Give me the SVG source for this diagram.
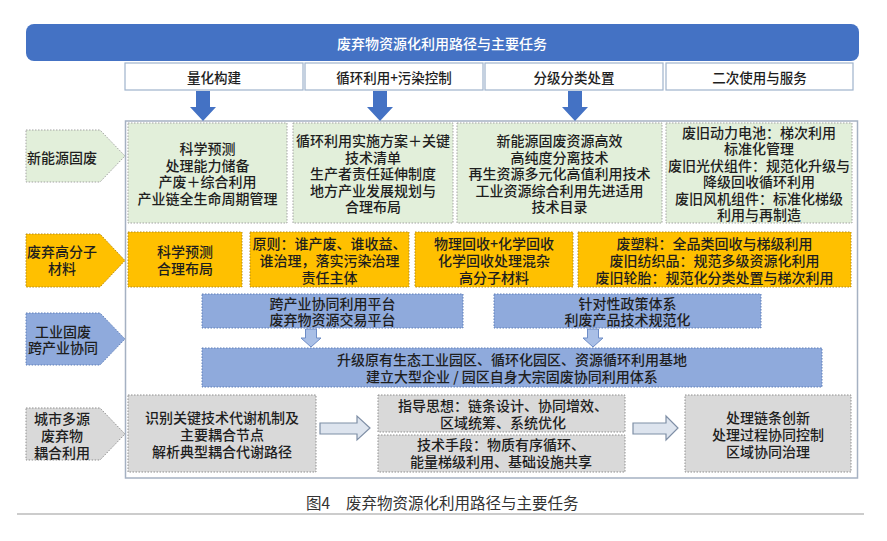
<svg xmlns="http://www.w3.org/2000/svg" width="887" height="541" viewBox="0 0 887 541">
<style>
text{font-family:"Noto Sans CJK SC","Noto Sans CJK JP",sans-serif;font-size:14px;font-weight:500;fill:#1e1e1e;text-anchor:middle;dominant-baseline:central}
.title{fill:#ffffff;font-size:14px}
.colhead{font-size:13.5px}
.cap{font-size:15.5px;fill:#333333;text-anchor:start;font-weight:400}
.colbox{fill:#ffffff;stroke:#9fb3cc;stroke-width:1.2}
.green{fill:#e2efda;stroke:#a3a3a3;stroke-width:1;stroke-dasharray:1.5 1.5}
.orange{fill:#ffc000;stroke:#b28a1a;stroke-width:1;stroke-dasharray:1.5 1.5}
.blue{fill:#8faadc;stroke:#5f7fb8;stroke-width:1;stroke-dasharray:1.5 1.5}
.gray{fill:#d9d9d9;stroke:#8f8f8f;stroke-width:1;stroke-dasharray:1.5 1.5}
.bigarrow{fill:#4472c4}
.smallarrow{fill:#a9bfe6;stroke:#6d8cc6;stroke-width:1}
.hollow{fill:#dde4ee;stroke:#7f8fa6;stroke-width:1.2}
</style>
<rect width="887" height="541" fill="#ffffff"/>

<g id="header">
<rect x="26" y="24" width="833" height="37" rx="8" fill="#4472c4"/>
<text class="title" x="442" y="43">废弃物资源化利用路径与主要任务</text>
</g>

<g id="col1"><rect class="colbox" x="125" y="63" width="178" height="27"/><text class="colhead" x="214" y="77">量化构建</text></g>
<g id="col2"><rect class="colbox" x="305" y="63" width="178" height="27"/><text class="colhead" x="394" y="77">循环利用+污染控制</text></g>
<g id="col3"><rect class="colbox" x="485" y="63" width="178" height="27"/><text class="colhead" x="574" y="77">分级分类处置</text></g>
<g id="col4"><rect class="colbox" x="666" y="63" width="187" height="27"/><text class="colhead" x="759.5" y="77">二次使用与服务</text></g>

<g id="container">
<rect x="125.5" y="121" width="732" height="357" fill="#ffffff" stroke="#a5b1c2" stroke-width="1.5"/>
</g>

<g id="connectors">
<polygon class="bigarrow" points="196,91 210,91 210,107 216,107 203,121 190,107 196,107"/>
<polygon class="bigarrow" points="373,91 387,91 387,107 393,107 380,121 367,107 373,107"/>
<polygon class="bigarrow" points="568,91 582,91 582,107 588,107 575,121 562,107 568,107"/>
<polygon class="smallarrow" points="305.5,329 316.5,329 316.5,338 321,338 311,347 301,338 305.5,338"/>
<polygon class="smallarrow" points="587.5,329 598.5,329 598.5,338 603,338 593,347 583,338 587.5,338"/>
<polygon class="hollow" points="320,423 357,423 357,416 370,428 357,440 357,434 320,434"/>
<polygon class="hollow" points="633,423 666,423 666,416 678,428 666,440 666,434 633,434"/>
</g>

<g id="label-row1">
<polygon class="green" points="26,130 100,130 125,156 100,182 26,182"/>
<text x="62" y="157">新能源固废</text>
</g>
<g id="r1b1">
<rect class="green" x="128" y="123" width="159" height="100"/>
<text><tspan x="207.5" y="148.25">科学预测</tspan><tspan x="207.5" y="164.75">处理能力储备</tspan><tspan x="207.5" y="181.25">产废＋综合利用</tspan><tspan x="207.5" y="197.75">产业链全生命周期管理</tspan></text>
</g>
<g id="r1b2">
<rect class="green" x="293" y="123" width="160" height="100"/>
<text><tspan x="373" y="140">循环利用实施方案＋关键</tspan><tspan x="373" y="156.5">技术清单</tspan><tspan x="373" y="173">生产者责任延伸制度</tspan><tspan x="373" y="189.5">地方产业发展规划与</tspan><tspan x="373" y="206">合理布局</tspan></text>
</g>
<g id="r1b3">
<rect class="green" x="457" y="123" width="205" height="100"/>
<text><tspan x="559.5" y="140">新能源固废资源高效</tspan><tspan x="559.5" y="156.5">高纯度分离技术</tspan><tspan x="559.5" y="173">再生资源多元化高值利用技术</tspan><tspan x="559.5" y="189.5">工业资源综合利用先进适用</tspan><tspan x="559.5" y="206">技术目录</tspan></text>
</g>
<g id="r1b4">
<rect class="green" x="666" y="123" width="186" height="100"/>
<text><tspan x="759" y="131.75">废旧动力电池：梯次利用</tspan><tspan x="759" y="148.25">标准化管理</tspan><tspan x="759" y="164.75">废旧光伏组件：规范化升级与</tspan><tspan x="759" y="181.25">降级回收循环利用</tspan><tspan x="759" y="197.75">废旧风机组件：标准化梯级</tspan><tspan x="759" y="214.25">利用与再制造</tspan></text>
</g>

<g id="label-row2">
<polygon class="orange" points="26,234 100,234 125,260.5 100,287 26,287"/>
<text><tspan x="62" y="251">废弃高分子</tspan><tspan x="62" y="268">材料</tspan></text>
</g>
<g id="r2b1">
<rect class="orange" x="128" y="232" width="114" height="55"/>
<text><tspan x="185" y="251">科学预测</tspan><tspan x="185" y="268">合理布局</tspan></text>
</g>
<g id="r2b2">
<rect class="orange" x="250" y="232" width="159" height="55"/>
<text><tspan x="329.5" y="242.5">原则：谁产废、谁收益、</tspan><tspan x="329.5" y="259.5">谁治理，落实污染治理</tspan><tspan x="329.5" y="276.5">责任主体</tspan></text>
</g>
<g id="r2b3">
<rect class="orange" x="415" y="232" width="158" height="55"/>
<text><tspan x="494" y="242.5">物理回收+化学回收</tspan><tspan x="494" y="259.5">化学回收处理混杂</tspan><tspan x="494" y="276.5">高分子材料</tspan></text>
</g>
<g id="r2b4">
<rect class="orange" x="578" y="232" width="273" height="55"/>
<text><tspan x="714.5" y="242.5">废塑料：全品类回收与梯级利用</tspan><tspan x="714.5" y="259.5">废旧纺织品：规范多级资源化利用</tspan><tspan x="714.5" y="276.5">废旧轮胎：规范化分类处置与梯次利用</tspan></text>
</g>

<g id="label-row3">
<polygon class="blue" points="26,313 100,313 125,339 100,365 26,365"/>
<text><tspan x="63" y="331">工业固废</tspan><tspan x="63" y="347">跨产业协同</tspan></text>
</g>
<g id="r3b1">
<rect class="blue" x="202" y="294" width="261" height="34"/>
<text><tspan x="332.5" y="303">跨产业协同利用平台</tspan><tspan x="332.5" y="319">废弃物资源交易平台</tspan></text>
</g>
<g id="r3b2">
<rect class="blue" x="494" y="294" width="267" height="34"/>
<text><tspan x="627.5" y="303">针对性政策体系</tspan><tspan x="627.5" y="319">利废产品技术规范化</tspan></text>
</g>
<g id="r3b3">
<rect class="blue" x="202" y="348" width="620" height="39"/>
<text><tspan x="512" y="359">升级原有生态工业园区、循环化园区、资源循环利用基地</tspan><tspan x="512" y="376">建立大型企业 / 园区自身大宗固废协同利用体系</tspan></text>
</g>

<g id="label-row4">
<polygon class="gray" points="26,408 100,408 125,434 100,460 26,460"/>
<text><tspan x="62" y="418">城市多源</tspan><tspan x="62" y="435">废弃物</tspan><tspan x="62" y="452">耦合利用</tspan></text>
</g>
<g id="r4b1">
<rect class="gray" x="128" y="395" width="188" height="77"/>
<text><tspan x="222" y="417">识别关键技术代谢机制及</tspan><tspan x="222" y="434">主要耦合节点</tspan><tspan x="222" y="451">解析典型耦合代谢路径</tspan></text>
</g>
<g id="r4b2a">
<rect class="gray" x="378" y="395" width="247" height="37"/>
<text><tspan x="503" y="405">指导思想：链条设计、协同增效、</tspan><tspan x="503" y="422">区域统筹、系统优化</tspan></text>
</g>
<g id="r4b2b">
<rect class="gray" x="378" y="435" width="247" height="37"/>
<text><tspan x="501" y="444">技术手段：物质有序循环、</tspan><tspan x="501" y="461">能量梯级利用、基础设施共享</tspan></text>
</g>
<g id="r4b3">
<rect class="gray" x="685" y="395" width="166" height="77"/>
<text><tspan x="768" y="417">处理链条创新</tspan><tspan x="768" y="434">处理过程协同控制</tspan><tspan x="768" y="451">区域协同治理</tspan></text>
</g>

<g id="caption">
<text class="cap" x="306" y="502">图4</text>
<text class="cap" x="346" y="502">废弃物资源化利用路径与主要任务</text>
<line x1="17" y1="514" x2="864" y2="514" stroke="#bbbbbb" stroke-width="1.5"/>
</g>
</svg>
